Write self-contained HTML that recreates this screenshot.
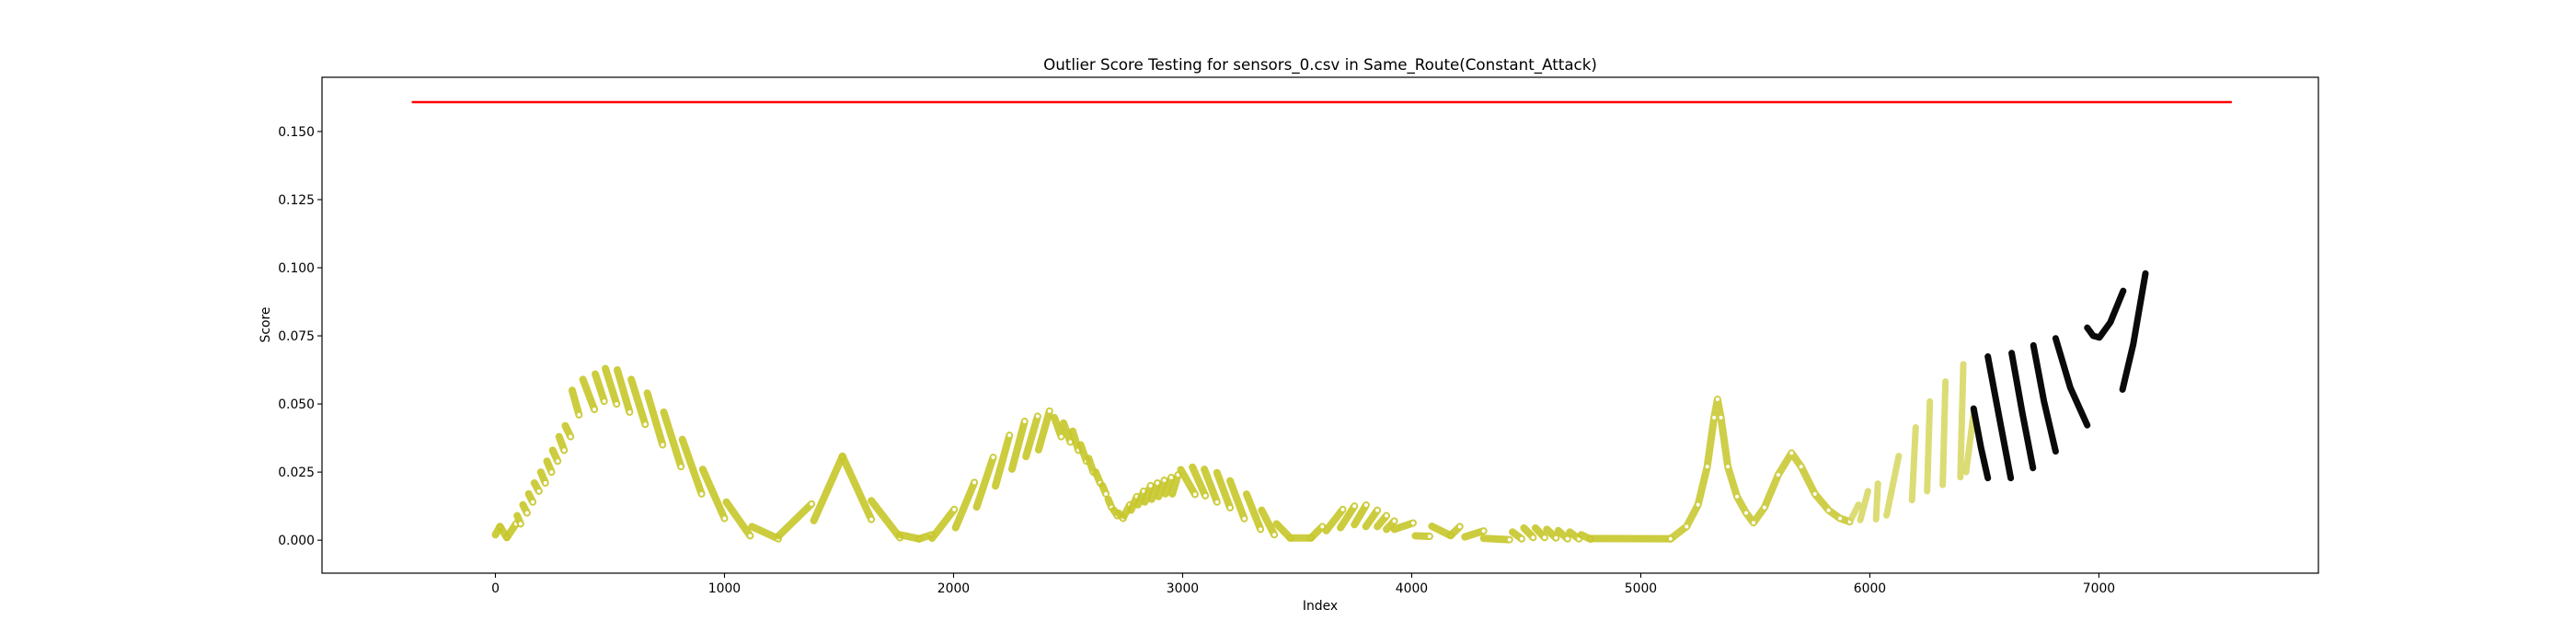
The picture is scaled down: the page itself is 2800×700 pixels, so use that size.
<!DOCTYPE html>
<html><head><meta charset="utf-8"><style>
html,body{margin:0;padding:0;background:#fff;}
svg{display:block;font-family:"DejaVu Sans","Liberation Sans",sans-serif;}
</style></head>
<body>
<svg id="chart" width="2800" height="700" xmlns="http://www.w3.org/2000/svg">
<rect x="0" y="0" width="2800" height="700" fill="#fff"/>
<text x="1435" y="76" font-size="16.7" text-anchor="middle" fill="#000">Outlier Score Testing for sensors_0.csv in Same_Route(Constant_Attack)</text>
<text x="1435" y="663" font-size="13.9" text-anchor="middle" fill="#000">Index</text>
<text x="0" y="0" font-size="13.9" text-anchor="middle" fill="#000" transform="translate(293,353) rotate(-90)">Score</text>
<g id="plot"></g>
<g id="axes"></g>
</svg>
<script>
const xTicks = [0,1000,2000,3000,4000,5000,6000,7000];
const yTicks = [0.000,0.025,0.050,0.075,0.100,0.125,0.150];
const yTickLabels = ["0.000","0.025","0.050","0.075","0.100","0.125","0.150"];
const thresholdLine = [-365, 7580, 0.1608];
const yellowSegs = [
 [0,0.002,20,0.005],[20,0.005,50,0.001],[50,0.001,90,0.006],
 [95,0.009,110,0.006],[120,0.013,138,0.010],[145,0.017,163,0.014],[170,0.021,190,0.018],
 [198,0.025,218,0.021],[225,0.029,245,0.025],[250,0.033,272,0.029],[278,0.038,300,0.033],
 [305,0.042,328,0.038],[335,0.055,365,0.046],[382,0.059,432,0.048],[436,0.061,475,0.051],
 [480,0.063,529,0.050],[532,0.0625,586,0.047],[593,0.059,654,0.0425],[663,0.054,730,0.035],
 [735,0.047,810,0.027],[816,0.037,900,0.017],[905,0.026,1000,0.008],[1008,0.014,1112,0.0016],
 [1120,0.005,1235,0.0005],[1237,0.0016,1380,0.0133],[1390,0.0072,1515,0.0308],[1515,0.0308,1641,0.0076],
 [1641,0.0145,1766,0.0009],[1766,0.002,1850,0.0005],[1850,0.0005,1906,0.002],
 [1906,0.0007,2003,0.0113],[2009,0.0046,2091,0.0212],[2101,0.0122,2173,0.0304],[2183,0.0199,2244,0.0385],
 [2255,0.0261,2310,0.0436],[2316,0.0307,2367,0.0455],[2371,0.0332,2419,0.0474],
 [2440,0.045,2470,0.038],[2480,0.043,2510,0.036],[2520,0.040,2545,0.033],[2555,0.035,2580,0.029],
 [2590,0.030,2610,0.025],[2620,0.025,2640,0.021],[2650,0.020,2665,0.017],[2675,0.015,2690,0.012],
 [2700,0.011,2715,0.009],[2720,0.010,2740,0.008],
 [2745,0.009,2770,0.013],[2775,0.011,2800,0.016],[2805,0.013,2830,0.018],[2835,0.014,2860,0.020],
 [2865,0.015,2890,0.021],[2895,0.016,2920,0.022],[2925,0.017,2950,0.023],[2955,0.017,2980,0.024],
 [2992,0.0259,3054,0.0168],[3043,0.0268,3099,0.0163],[3095,0.026,3150,0.014],[3150,0.0248,3207,0.0119],
 [3207,0.0218,3269,0.0079],[3279,0.0169,3340,0.004],[3345,0.011,3400,0.002],[3410,0.006,3470,0.0008],
 [3470,0.0008,3560,0.0008],[3560,0.0008,3610,0.005],
 [3627,0.0035,3699,0.0113],[3689,0.0046,3750,0.0125],[3750,0.0057,3801,0.0129],[3800,0.005,3850,0.011],
 [3850,0.005,3890,0.009],[3890,0.004,3924,0.007],[3924,0.004,4006,0.0063],[4016,0.0016,4078,0.0014],
 [4088,0.0051,4170,0.0017],[4170,0.0017,4210,0.005],[4232,0.0012,4314,0.0034],[4314,0.0007,4427,0.0002],
 [4440,0.003,4480,0.0005],[4490,0.0045,4530,0.001],[4540,0.0045,4580,0.001],[4590,0.004,4630,0.0008],
 [4640,0.0035,4680,0.0005],[4690,0.003,4730,0.0005],[4740,0.002,4780,0.0004],[4780,0.0006,5130,0.0005]
];
const spikeX = [5130,5200,5250,5290,5320,5335,5350,5380,5420,5460,5492,5540,5600,5658,5700,5760,5820,5870,5912];
const spikeY = [0.0005,0.005,0.013,0.027,0.045,0.0517,0.045,0.027,0.016,0.010,0.0064,0.012,0.024,0.032,0.027,0.017,0.011,0.008,0.0068];
const lightSegs = [
 [5920,0.008,5950,0.013],[5958,0.0074,5992,0.018],[6027,0.0077,6035,0.0208],[6073,0.0091,6126,0.0309],
 [6184,0.0147,6200,0.0414],[6250,0.018,6262,0.0509],[6318,0.0203,6330,0.0582],[6395,0.0231,6408,0.0646],
 [6420,0.025,6455,0.048]
];
const blackStrokes = [
 [[6453,0.0483],[6485,0.034],[6515,0.0228]],
 [[6515,0.0674],[6565,0.045],[6615,0.0228]],
 [[6619,0.0687],[6665,0.047],[6712,0.0265]],
 [[6714,0.0715],[6760,0.051],[6811,0.0326]],
 [[6811,0.0741],[6875,0.056],[6949,0.0422]],
 [[6949,0.078],[6975,0.075],[7002,0.0744],[7050,0.080],[7106,0.0915]],
 [[7103,0.0553],[7150,0.072],[7203,0.0979]]
];
const L=350,R=2520,T=84,B=623, XMIN=-757, XMAX=7958, YMIN=-0.0121, YMAX=0.1699;
const sx=v=>L+(v-XMIN)/(XMAX-XMIN)*(R-L);
const sy=v=>B-(v-YMIN)/(YMAX-YMIN)*(B-T);
const NS="http://www.w3.org/2000/svg";
const plot=document.getElementById('plot'), axes=document.getElementById('axes');
function mk(tag,attrs,parent){const e=document.createElementNS(NS,tag);for(const k in attrs)e.setAttribute(k,attrs[k]);parent.appendChild(e);return e;}

const th=mk('line',{x1:sx(thresholdLine[0]),x2:sx(thresholdLine[1]),y1:sy(thresholdLine[2]),y2:sy(thresholdLine[2]),stroke:'#ff0000','stroke-width':2.5},plot);



yellowSegs.forEach(s=>{
 const l=mk('line',{x1:sx(s[0]),y1:sy(s[1]),x2:sx(s[2]),y2:sy(s[3]),stroke:'#c6c62a','stroke-width':8,'stroke-linecap':'round','stroke-opacity':0.9},plot);
 
 
 const c=mk('circle',{cx:sx(s[2]),cy:sy(s[3]),r:2,fill:'#fff'},plot);
 
 
});
const sp=mk('polyline',{points:spikeX.map((x,i)=>sx(x)+','+sy(spikeY[i])).join(' '),fill:'none',stroke:'#c9c935','stroke-width':8,'stroke-linejoin':'round','stroke-linecap':'round','stroke-opacity':0.9},plot);


spikeX.forEach((x,i)=>{
 const c=mk('circle',{cx:sx(x),cy:sy(spikeY[i]),r:2,fill:'#fff'},plot);
 
 
});
lightSegs.forEach(s=>{
 const l=mk('line',{x1:sx(s[0]),y1:sy(s[1]),x2:sx(s[2]),y2:sy(s[3]),stroke:'#d6d65e','stroke-width':7,'stroke-linecap':'round','stroke-opacity':0.85},plot);
 
 
});
blackStrokes.forEach(pts=>{
 const p=mk('polyline',{points:pts.map(q=>sx(q[0])+','+sy(q[1])).join(' '),fill:'none',stroke:'#0a0a0a','stroke-width':7,'stroke-linecap':'round','stroke-linejoin':'round'},plot);
 
 
});

const frame=mk('rect',{x:L,y:T,width:R-L,height:B-T,fill:'none',stroke:'#000','stroke-width':1.2},axes);


xTicks.forEach(v=>{
 const x=sx(v);
 const t=mk('line',{x1:x,x2:x,y1:B,y2:B+5,stroke:'#000','stroke-width':1.1},axes);
 
 
 const tx=mk('text',{x:x,y:B+21,'font-size':13.9,'text-anchor':'middle',fill:'#000'},axes);
 tx.textContent=String(v);
 
 
});
yTicks.forEach((v,i)=>{
 const y=sy(v);
 const t=mk('line',{x1:L-5,x2:L,y1:y,y2:y,stroke:'#000','stroke-width':1.1},axes);
 
 
 const tx=mk('text',{x:L-8,y:y+5,'font-size':13.9,'text-anchor':'end',fill:'#000'},axes);
 tx.textContent=yTickLabels[i];
 
 
});
</script>
</body></html>
